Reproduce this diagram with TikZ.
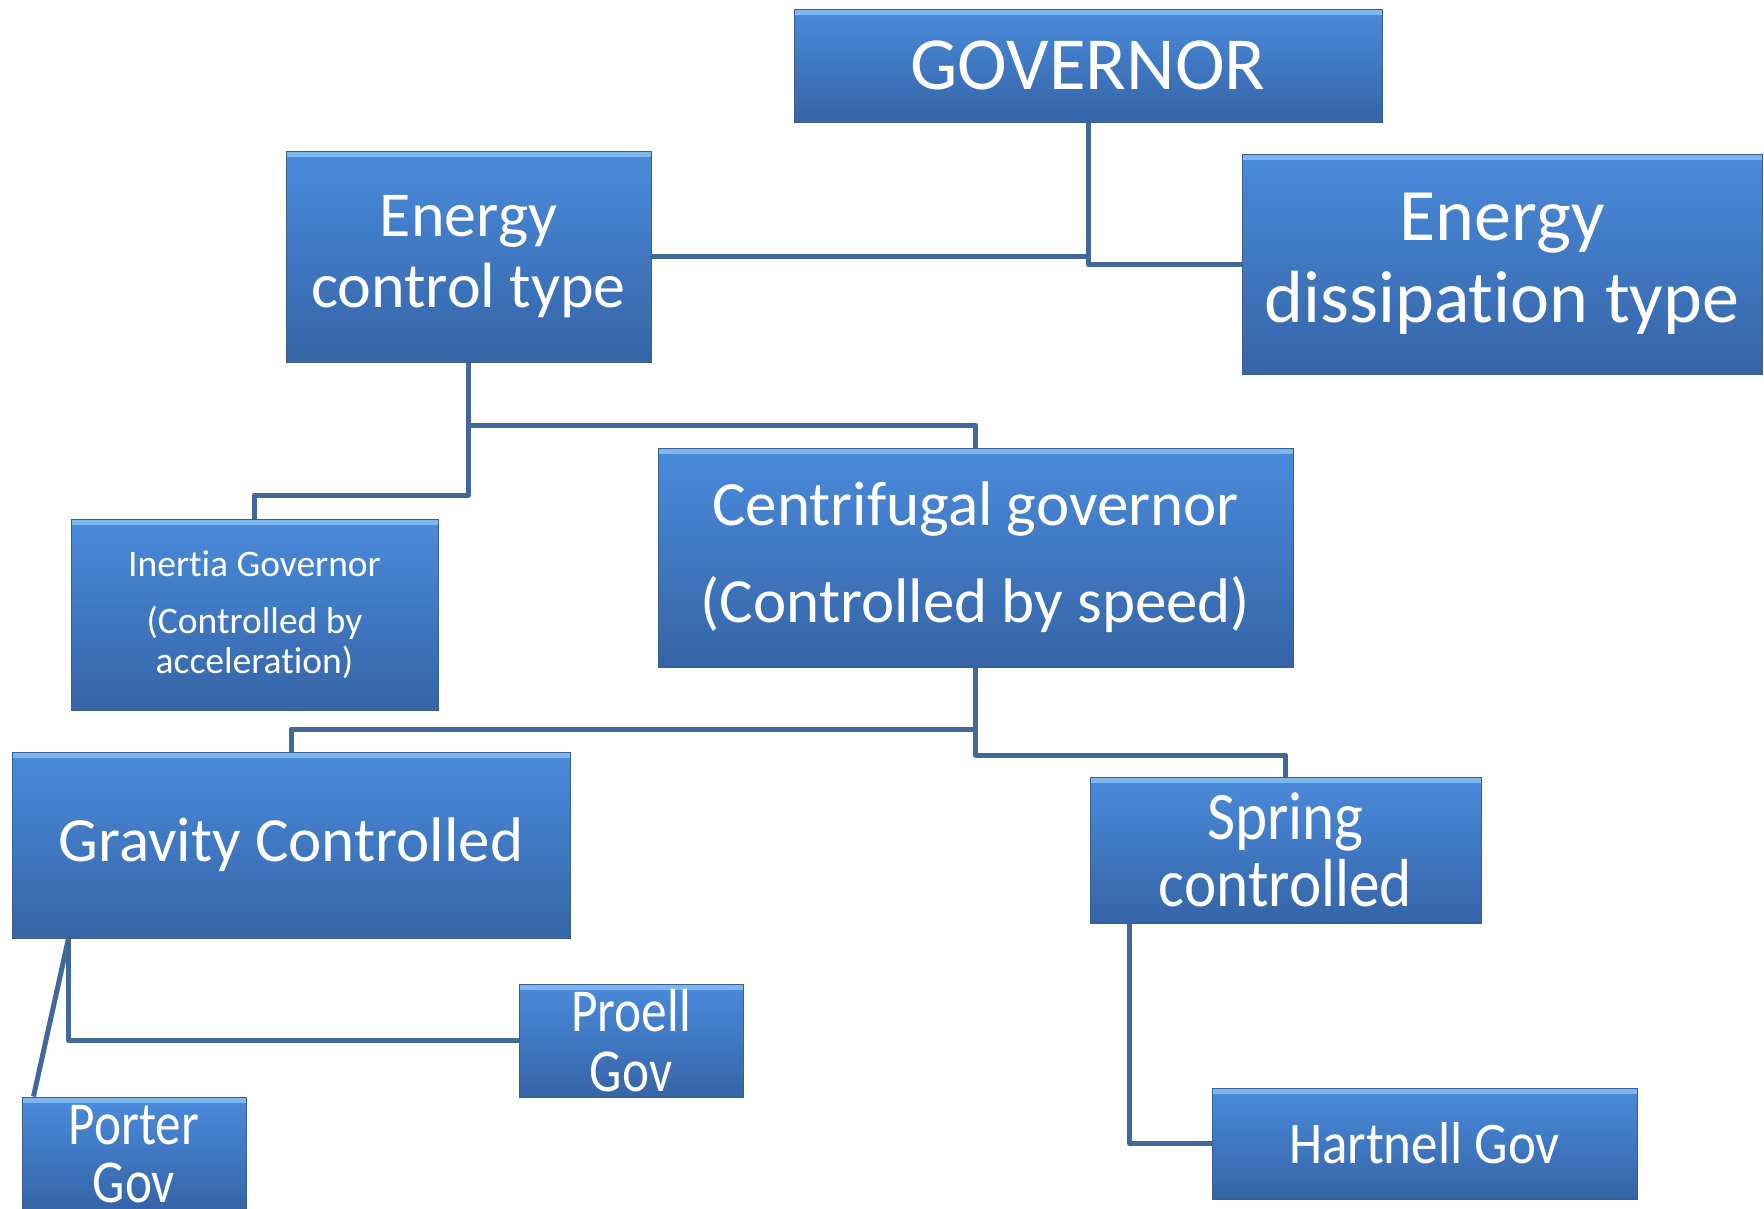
\documentclass[tikz,border=0pt]{standalone}
\usepackage{fontspec}
\setmainfont{Carlito}[Ligatures=CommonOff]
\newfontfamily\condA{Carlito}[FakeStretch=0.84,Ligatures=CommonOff]
\newfontfamily\condB{Carlito}[FakeStretch=0.9,Ligatures=CommonOff]
\definecolor{boxtop}{HTML}{4A8BDC}
\definecolor{boxbot}{HTML}{3564A6}
\definecolor{boxband}{HTML}{7DB6F0}
\definecolor{boxedge}{HTML}{3A5E92}
\definecolor{linkc}{HTML}{41689B}
\tikzset{
  box/.style={rectangle, inner sep=0pt, text=white, align=center,
    top color=boxtop, bottom color=boxbot, draw=boxedge, line width=1pt,
    path picture={\fill[boxband] (path picture bounding box.north west) rectangle ([yshift=-6pt]path picture bounding box.north east);}},
  link/.style={draw=linkc, line width=5pt, line join=round}
}
\begin{document}
\begin{tikzpicture}[x=1pt,y=-1pt]
\useasboundingbox (0,0) rectangle (1764,1208);
% nodes
\node[box, minimum width=588, minimum height=113, font={\fontsize{75}{80}\selectfont}] (gov) at (1088,65.5)
  {GOVERNOR};
\node[box, minimum width=365, minimum height=211, font={\fontsize{64}{71}\selectfont}] (ect) at (468.5,256.5)
  {Energy\\control type};
\node[box, minimum width=520, minimum height=220, font={\fontsize{74}{82}\selectfont}] (edt) at (1502,264)
  {Energy\\dissipation type\rule[-10pt]{0pt}{1pt}};
\node[box, minimum width=635, minimum height=219, font={\fontsize{63}{97}\selectfont}] (cent) at (975.5,557.5)
  {Centrifugal governor\\(Controlled by speed)};
\node[box, minimum width=367, minimum height=191, font={\fontsize{37.5}{40}\selectfont}] (inertia) at (254.5,614.5)
  {Inertia Governor\\[17pt](Controlled by\\acceleration)};
\node[box, minimum width=558, minimum height=186, font={\fontsize{63}{70}\selectfont}] (grav) at (291,845)
  {Gravity Controlled};
\node[box, minimum width=391, minimum height=146, font={\condB\fontsize{68}{67}\selectfont}] (spring) at (1285.5,850)
  {Spring\\controlled};
\node[box, minimum width=224, minimum height=113, font={\condA\fontsize{61}{60}\selectfont}] (proell) at (631,1040.5)
  {Proell\\Gov};
\node[box, minimum width=224, minimum height=114, font={\condA\fontsize{61}{58}\selectfont}] (porter) at (134,1154)
  {Porter\\Gov};
\node[box, minimum width=425, minimum height=111, font={\condB\fontsize{59}{60}\selectfont}] (hart) at (1424.5,1143.5)
  {Hartnell Gov};
% helper coordinates
\coordinate (ja) at (0,495);
\coordinate (jb) at (0,425);
\coordinate (jc) at (0,729);
\coordinate (jd) at (0,755);
\coordinate (gb) at ([xshift=57pt]grav.south west);
\coordinate (sb) at ([xshift=40pt]spring.south west);
\coordinate (pt) at ([xshift=12pt]porter.north west);
% connectors
\draw[link] (ect.east) -- (ect.east -| gov.south);
\draw[link] (gov.south) |- (edt.west);
\draw[link] (ect.south) -- (ect.south |- ja) -| (inertia.north);
\draw[link] (ect.south |- jb) -| (cent.north);
\draw[link] (cent.south) -- (cent.south |- jd) -| (spring.north);
\draw[link] (cent.south |- jc) -| (grav.north);
\draw[link] (gb) |- (proell.west);
\draw[link] (gb) -- (pt);
\draw[link] (sb) |- (hart.west);
\end{tikzpicture}
\end{document}
